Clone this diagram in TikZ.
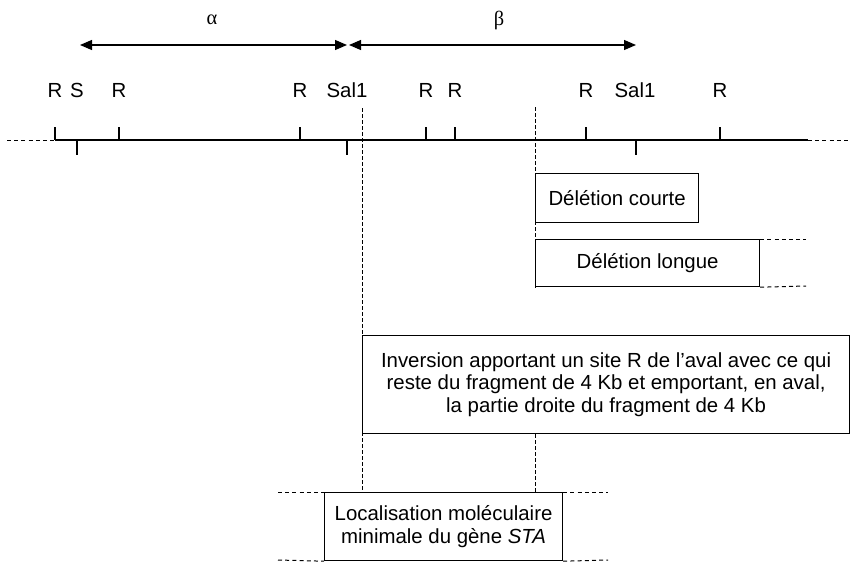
\documentclass[tikz,border=0pt]{standalone}
\usepackage{fontspec}
\setmainfont{Liberation Sans}
\newfontfamily\greekfont{Liberation Serif}
\usetikzlibrary{arrows.meta,positioning}

\begin{document}
\begin{tikzpicture}[x=0.5pt,y=-0.5pt,
  every node/.style={font=\fontsize{10.2}{11.2}\selectfont,inner sep=0pt},
  strand/.style={line width=0.6pt},
  stub/.style={line width=0.5pt,dash pattern=on 2pt off 1.6pt},
  cut/.style={line width=0.5pt,dash pattern=on 2pt off 1pt},
  site/.style={anchor=center},
  span/.style={{Triangle[length=6pt,width=5pt]}-{Triangle[length=6pt,width=5pt]},line width=0.6pt},
  fragbox/.style={draw,line width=0.6pt,rectangle,anchor=north west,align=center}]
\useasboundingbox (0,0) rectangle (850,562);

% restriction map
\coordinate (mapL) at (55,140);
\coordinate (mapR) at (808,140);
\draw[stub] (7,140) -- (mapL);
\draw[strand] (mapL) -- (mapR);
\draw[stub] (mapR) -- (850,140);
\foreach \x in {55,119,300,426,455,586,720}
  \draw[strand] (\x,127) -- (\x,140);
\foreach \x in {77,347,636}
  \draw[strand] (\x,140) -- (\x,155);

% site names
\node[site] (r1) at (55,90) {R};
\node[site] (s1) at (77,90) {S};
\node[site] (r2) at (119,90) {R};
\node[site] (r3) at (300,90) {R};
\node[site] (sal1) at (347,90) {Sal1};
\node[site] (r4) at (426,90) {R};
\node[site] (r5) at (455,90) {R};
\node[site] (r6) at (586,90) {R};
\node[site] (sal2) at (635,90) {Sal1};
\node[site] (r7) at (720,90) {R};

% alpha and beta segments
\coordinate (aL) at (80,45);
\coordinate (aR) at (347,45);
\coordinate (bL) at (349,45);
\coordinate (bR) at (636,45);
\draw[span] (aL) -- (aR);
\draw[span] (bL) -- (bR);
\node (alpha) at (212,20) {\greekfont α};
\node (beta) at (499,20) {\greekfont β};

% deletions
\node[fragbox,minimum width=81.5pt,minimum height=24.5pt] (court) at (535,173) {Délétion courte};
\node[fragbox,minimum width=112pt,minimum height=23.5pt] (long) at (535,239) {Délétion longue};
\coordinate (longN) at (806,239);
\coordinate (longS) at (806,286);
\draw[stub] (long.north east) -- (longN);
\draw[stub] (long.south east) -- (longS);

% inversion
\node[fragbox,minimum width=243.5pt,minimum height=49pt] (inv) at (362,335)
  {Inversion apportant un site R de l’aval avec ce qui\\reste du fragment de 4 Kb et emportant, en aval,\\la partie droite du fragment de 4 Kb};

% minimal localisation
\node[fragbox,minimum width=119pt,minimum height=34pt] (loc) at (324,492)
  {Localisation moléculaire\\minimale du gène \textit{STA}};
\coordinate (locNW) at (278,492);
\coordinate (locSW) at (278,560);
\coordinate (locNE) at (608,492);
\coordinate (locSE) at (608,560);
\draw[stub] (locNW) -- (loc.north west);
\draw[stub] (locSW) -- (loc.south west);
\draw[stub] (loc.north east) -- (locNE);
\draw[stub] (loc.south east) -- (locSE);

% boundaries
\coordinate (cutL) at (362,108);
\coordinate (cutR) at (535,107);
\draw[cut] (cutL) -- (cutL |- loc.north);
\draw[cut] (cutR) -- (long.south west);
\draw[cut] (cutR |- inv.south) -- (cutR |- loc.north);
\end{tikzpicture}
\end{document}
